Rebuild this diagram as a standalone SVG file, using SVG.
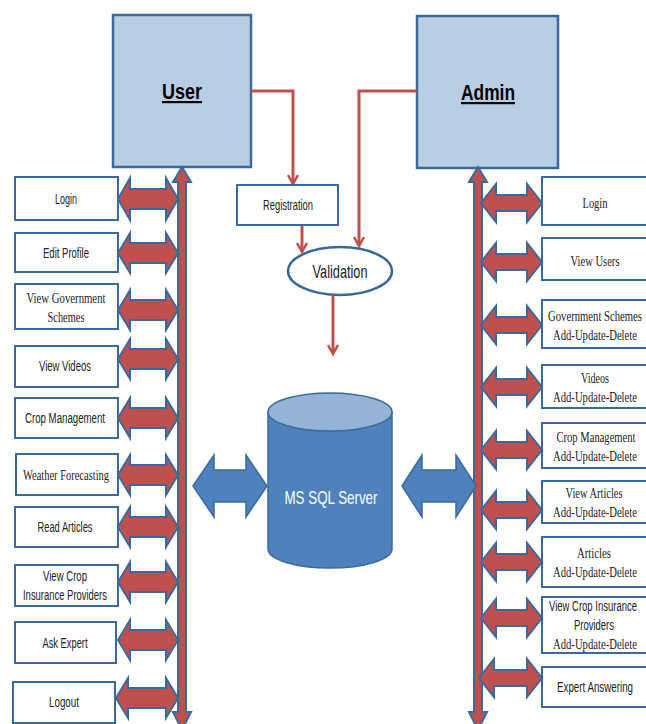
<svg xmlns="http://www.w3.org/2000/svg" width="646" height="724" viewBox="0 0 646 724">
<defs>
<style>
.actor{fill:#B9CDE5;stroke:#3A6A9C;stroke-width:2.5}
.box{fill:#fff;stroke:#3A6A9C;stroke-width:2}
.rarr{fill:#C0504D;stroke:#3A6A9C;stroke-width:2;stroke-linejoin:miter}
.barr{fill:#4F81BD;stroke:#3A6A9C;stroke-width:1.5}
.conn{fill:none;stroke:#C0504D;stroke-width:3}
.s{font-family:"Liberation Sans",Arial,sans-serif;font-size:14px;fill:#222;text-anchor:middle}
.t{font-family:"Liberation Serif","Times New Roman",serif;font-size:15px;fill:#222;text-anchor:middle}
.big{font-family:"Liberation Sans",Arial,sans-serif;font-size:22px;font-weight:bold;fill:#000;text-anchor:middle;text-decoration:underline}
</style>
<marker id="v" viewBox="0 0 12 12" refX="10" refY="6" markerWidth="12" markerHeight="12" orient="auto" markerUnits="userSpaceOnUse">
<path d="M1,1 L10,6 L1,11" fill="none" stroke="#C0504D" stroke-width="2.5"/>
</marker>
</defs>

<g id="user"><rect class="actor" x="113" y="15" width="138" height="152"/><text class="big" x="182" y="99" textLength="40" lengthAdjust="spacingAndGlyphs">User</text></g>
<g id="admin"><rect class="actor" x="417" y="16" width="141" height="152"/><text class="big" x="488" y="100" textLength="54" lengthAdjust="spacingAndGlyphs">Admin</text></g>

<g id="connectors">
<path class="conn" d="M251,91 L293,91 L293,184" marker-end="url(#v)"/>
<path class="conn" d="M417,91 L359,91 L359,246" marker-end="url(#v)"/>
<path class="conn" d="M302,225 L302,252" marker-end="url(#v)"/>
<path class="conn" d="M333,296 L333,354" marker-end="url(#v)"/>
<path class="rarr" d="M182,167 L191,182 L186,182 L186,712 L191,712 L182,730 L173,712 L178,712 L178,182 L173,182 Z"/>
<path class="rarr" d="M478,167 L487,182 L482,182 L482,712 L487,712 L478,730 L469,712 L474,712 L474,182 L469,182 Z"/>
<path class="rarr" d="M118,199 L130,178 L130,189 L166,189 L166,178 L178,199 L166,220 L166,209 L130,209 L130,220 Z"/>
<path class="rarr" d="M118,253 L130,233 L130,243 L166,243 L166,233 L178,253 L166,273 L166,263 L130,263 L130,273 Z"/>
<path class="rarr" d="M118,310 L130,290 L130,300 L166,300 L166,290 L178,310 L166,330 L166,320 L130,320 L130,330 Z"/>
<path class="rarr" d="M118,359 L130,339 L130,349 L166,349 L166,339 L178,359 L166,379 L166,369 L130,369 L130,379 Z"/>
<path class="rarr" d="M118,418 L130,398 L130,408 L166,408 L166,398 L178,418 L166,438 L166,428 L130,428 L130,438 Z"/>
<path class="rarr" d="M118,475 L130,455 L130,465 L166,465 L166,455 L178,475 L166,495 L166,485 L130,485 L130,495 Z"/>
<path class="rarr" d="M118,527 L130,507 L130,517 L166,517 L166,507 L178,527 L166,547 L166,537 L130,537 L130,547 Z"/>
<path class="rarr" d="M118,582 L130,562 L130,572 L166,572 L166,562 L178,582 L166,602 L166,592 L130,592 L130,602 Z"/>
<path class="rarr" d="M118,640 L130,620 L130,630 L166,630 L166,620 L178,640 L166,660 L166,650 L130,650 L130,660 Z"/>
<path class="rarr" d="M116,698 L128,678 L128,688 L166,688 L166,678 L178,698 L166,718 L166,708 L128,708 L128,718 Z"/>
<path class="rarr" d="M481,203 L496,184 L496,195 L527,195 L527,184 L542,203 L527,222 L527,211 L496,211 L496,222 Z"/>
<path class="rarr" d="M481,262 L496,243 L496,254 L527,254 L527,243 L542,262 L527,281 L527,270 L496,270 L496,281 Z"/>
<path class="rarr" d="M481,325 L496,306 L496,317 L527,317 L527,306 L542,325 L527,344 L527,333 L496,333 L496,344 Z"/>
<path class="rarr" d="M481,387 L496,368 L496,379 L527,379 L527,368 L542,387 L527,406 L527,395 L496,395 L496,406 Z"/>
<path class="rarr" d="M481,450 L496,431 L496,442 L527,442 L527,431 L542,450 L527,469 L527,458 L496,458 L496,469 Z"/>
<path class="rarr" d="M481,510 L496,491 L496,502 L527,502 L527,491 L542,510 L527,529 L527,518 L496,518 L496,529 Z"/>
<path class="rarr" d="M481,562 L496,543 L496,554 L527,554 L527,543 L542,562 L527,581 L527,570 L496,570 L496,581 Z"/>
<path class="rarr" d="M481,618 L496,599 L496,610 L527,610 L527,599 L542,618 L527,637 L527,626 L496,626 L496,637 Z"/>
<path class="rarr" d="M479,678 L494,659 L494,670 L527,670 L527,659 L542,678 L527,697 L527,686 L494,686 L494,697 Z"/>
<path class="barr" d="M193,486 L214,455 L214,470 L246,470 L246,455 L267,486 L246,517 L246,502 L214,502 L214,517 Z"/>
<path class="barr" d="M402,486 L422,455 L422,470 L456,470 L456,455 L476,486 L456,517 L456,502 L422,502 L422,517 Z"/>
</g>

<g id="registration"><rect class="box" x="237" y="185" width="101" height="40"/><text class="s" x="288" y="210" textLength="50" lengthAdjust="spacingAndGlyphs">Registration</text></g>
<g id="validation"><ellipse cx="340" cy="271" rx="52" ry="24" fill="#fff" stroke="#3A6A9C" stroke-width="2.5"/><text class="s" x="340" y="278" style="font-size:19px" textLength="55" lengthAdjust="spacingAndGlyphs">Validation</text></g>
<g id="db">
<path d="M268,412 L268,549 A62,19 0 0 0 392,549 L392,412 Z" fill="#4F81BD" stroke="#3A6A9C" stroke-width="1.5"/>
<ellipse cx="330" cy="412" rx="62" ry="19" fill="#95B3D7" stroke="#3A6A9C" stroke-width="1.5"/>
<text class="s" x="331" y="504" style="font-size:19px;fill:#fff" textLength="93" lengthAdjust="spacingAndGlyphs">MS SQL Server</text>
</g>

<g id="u-login"><rect class="box" x="15" y="177" width="103" height="43"/><text class="s" x="66" y="204" textLength="22" lengthAdjust="spacingAndGlyphs">Login</text></g>
<g id="u-edit"><rect class="box" x="15" y="233" width="103" height="39"/><text class="s" x="66" y="258" textLength="46" lengthAdjust="spacingAndGlyphs">Edit Profile</text></g>
<g id="u-gov"><rect class="box" x="15" y="284" width="103" height="45"/><text class="t" x="66" y="303" textLength="79" lengthAdjust="spacingAndGlyphs">View Government</text><text class="t" x="66" y="322" textLength="37" lengthAdjust="spacingAndGlyphs">Schemes</text></g>
<g id="u-videos"><rect class="box" x="15" y="346" width="103" height="41"/><text class="s" x="65" y="371" textLength="52" lengthAdjust="spacingAndGlyphs">View Videos</text></g>
<g id="u-crop"><rect class="box" x="15" y="398" width="103" height="40"/><text class="s" x="65" y="423" textLength="80" lengthAdjust="spacingAndGlyphs">Crop Management</text></g>
<g id="u-weather"><rect class="box" x="16" y="454" width="102" height="41"/><text class="t" x="66" y="480" textLength="86" lengthAdjust="spacingAndGlyphs">Weather Forecasting</text></g>
<g id="u-articles"><rect class="box" x="15" y="507" width="103" height="40"/><text class="s" x="65" y="532" textLength="55" lengthAdjust="spacingAndGlyphs">Read Articles</text></g>
<g id="u-insurance"><rect class="box" x="15" y="565" width="103" height="41"/><text class="s" x="65" y="581" textLength="44" lengthAdjust="spacingAndGlyphs">View Crop</text><text class="s" x="65" y="600" textLength="84" lengthAdjust="spacingAndGlyphs">Insurance Providers</text></g>
<g id="u-expert"><rect class="box" x="15" y="622" width="101" height="41"/><text class="s" x="65" y="648" textLength="45" lengthAdjust="spacingAndGlyphs">Ask Expert</text></g>
<g id="u-logout"><rect class="box" x="13" y="682" width="102" height="41"/><text class="s" x="64" y="707" textLength="30" lengthAdjust="spacingAndGlyphs">Logout</text></g>

<g id="a-login"><rect class="box" x="542" y="177" width="110" height="48"/><text class="t" x="595" y="208" textLength="25" lengthAdjust="spacingAndGlyphs">Login</text></g>
<g id="a-users"><rect class="box" x="542" y="238" width="110" height="42"/><text class="t" x="595" y="266" textLength="49" lengthAdjust="spacingAndGlyphs">View Users</text></g>
<g id="a-gov"><rect class="box" x="542" y="300" width="110" height="48"/><text class="t" x="595" y="321" textLength="94" lengthAdjust="spacingAndGlyphs">Government Schemes</text><text class="t" x="595" y="340" textLength="84" lengthAdjust="spacingAndGlyphs">Add-Update-Delete</text></g>
<g id="a-videos"><rect class="box" x="542" y="365" width="110" height="43"/><text class="t" x="595" y="383" textLength="28" lengthAdjust="spacingAndGlyphs">Videos</text><text class="t" x="595" y="402" textLength="84" lengthAdjust="spacingAndGlyphs">Add-Update-Delete</text></g>
<g id="a-crop"><rect class="box" x="542" y="423" width="110" height="45"/><text class="t" x="596" y="442" textLength="79" lengthAdjust="spacingAndGlyphs">Crop Management</text><text class="t" x="595" y="461" textLength="84" lengthAdjust="spacingAndGlyphs">Add-Update-Delete</text></g>
<g id="a-varticles"><rect class="box" x="542" y="481" width="110" height="42"/><text class="t" x="594" y="498" textLength="57" lengthAdjust="spacingAndGlyphs">View Articles</text><text class="t" x="595" y="517" textLength="84" lengthAdjust="spacingAndGlyphs">Add-Update-Delete</text></g>
<g id="a-articles"><rect class="box" x="542" y="537" width="110" height="50"/><text class="t" x="594" y="558" textLength="34" lengthAdjust="spacingAndGlyphs">Articles</text><text class="t" x="595" y="577" textLength="84" lengthAdjust="spacingAndGlyphs">Add-Update-Delete</text></g>
<g id="a-insurance"><rect class="box" x="542" y="597" width="110" height="56"/><text class="s" x="593" y="611" textLength="88" lengthAdjust="spacingAndGlyphs">View Crop Insurance</text><text class="s" x="594" y="630" textLength="40" lengthAdjust="spacingAndGlyphs">Providers</text><text class="t" x="595" y="649" textLength="84" lengthAdjust="spacingAndGlyphs">Add-Update-Delete</text></g>
<g id="a-expert"><rect class="box" x="542" y="667" width="110" height="40"/><text class="s" x="595" y="692" textLength="76" lengthAdjust="spacingAndGlyphs">Expert Answering</text></g>
</svg>
